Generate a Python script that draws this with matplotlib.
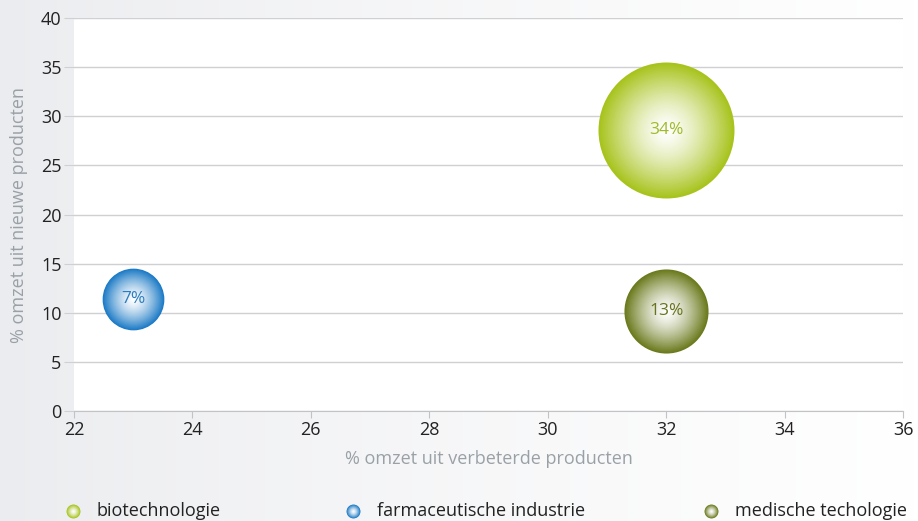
import numpy as np
import matplotlib
matplotlib.use("Agg")
import matplotlib.pyplot as plt
from matplotlib.colors import to_rgb

sectors = ["biotechnologie", "farmaceutische industrie", "medische techologie"]
verbeterd = [32, 23, 32]      # % omzet uit verbeterde producten
nieuw = [28.6, 11.4, 10.2]    # % omzet uit nieuwe producten
aandeel = [34, 7, 13]         # bubble size / label
edge_colors = ["#a7c31c", "#1b7ac6", "#6a7a1c"]
label_colors = ["#9fba2b", "#2a7dc2", "#68731f"]

x_ticks = [22, 24, 26, 28, 30, 32, 34, 36]
y_ticks = [0, 5, 10, 15, 20, 25, 30, 35, 40]

plt.rcParams["font.family"] = ["Open Sans", "DejaVu Sans"]

fig = plt.figure(figsize=(9.18, 5.21), dpi=100)

# light grey background fading to white on the right
bg = fig.add_axes([0, 0, 1, 1], zorder=-10)
grad = np.linspace(0, 1, 256) ** 0.8
bg_rgb = np.array(to_rgb("#ebecef"))
img = bg_rgb[None, :] * (1 - grad[:, None]) + grad[:, None]
bg.imshow(img[None, :, :], aspect="auto", extent=[0, 1, 0, 1])
bg.axis("off")


def gradient_dot(ax, x, y, s, color, n=45, **kw):
    edge = np.array(to_rgb(color))
    for i in range(n):
        f = 1 - i / n
        c = 1 - (1 - edge) * f ** 1.4
        ax.scatter([x], [y], s=s * f ** 2, color=c, linewidths=0, **kw)


ax = fig.add_axes([0.0806, 0.2111, 0.9031, 0.7543])
ax.set_facecolor("white")
ax.set_xlim(22, 36)
ax.set_ylim(0, 40)
ax.set_xticks(x_ticks)
ax.set_yticks(y_ticks)
ax.grid(axis="y", color="#cfd0d2", linewidth=1)
ax.set_axisbelow(True)
for sp in ["top", "right", "left"]:
    ax.spines[sp].set_visible(False)
ax.spines["bottom"].set_color("#c2c3c6")
ax.tick_params(axis="y", length=7, color="#cfd0d2", labelsize=13, labelcolor="#222222", pad=2)
ax.tick_params(axis="x", length=5, color="#c2c3c6", labelsize=13, labelcolor="#222222", pad=2)
ax.set_xlabel("% omzet uit verbeterde producten", color="#9aa1a6", fontsize=13, labelpad=8)
ax.set_ylabel("% omzet uit nieuwe producten", color="#9aa1a6", fontsize=13, labelpad=9)

size_scale = 282  # points^2 per percent
for x, y, v, col, lc in zip(verbeterd, nieuw, aandeel, edge_colors, label_colors):
    gradient_dot(ax, x, y, v * size_scale, col, zorder=3)
    ax.text(x, y, f"{v}%", ha="center", va="center", color=lc, fontsize=12.5, zorder=5)

# legend row
lax = fig.add_axes([0, 0, 1, 0.06])
lax.set_xlim(0, 918)
lax.set_ylim(0, 31)
lax.axis("off")
leg_x = [73, 353, 711]
for lx, name, col in zip(leg_x, sectors, edge_colors):
    gradient_dot(lax, lx, 10, 100, col, n=20)
    lax.text(lx + 24, 10, name, va="center", ha="left", fontsize=13, color="#222222")

fig.savefig("out.png", dpi=100)
